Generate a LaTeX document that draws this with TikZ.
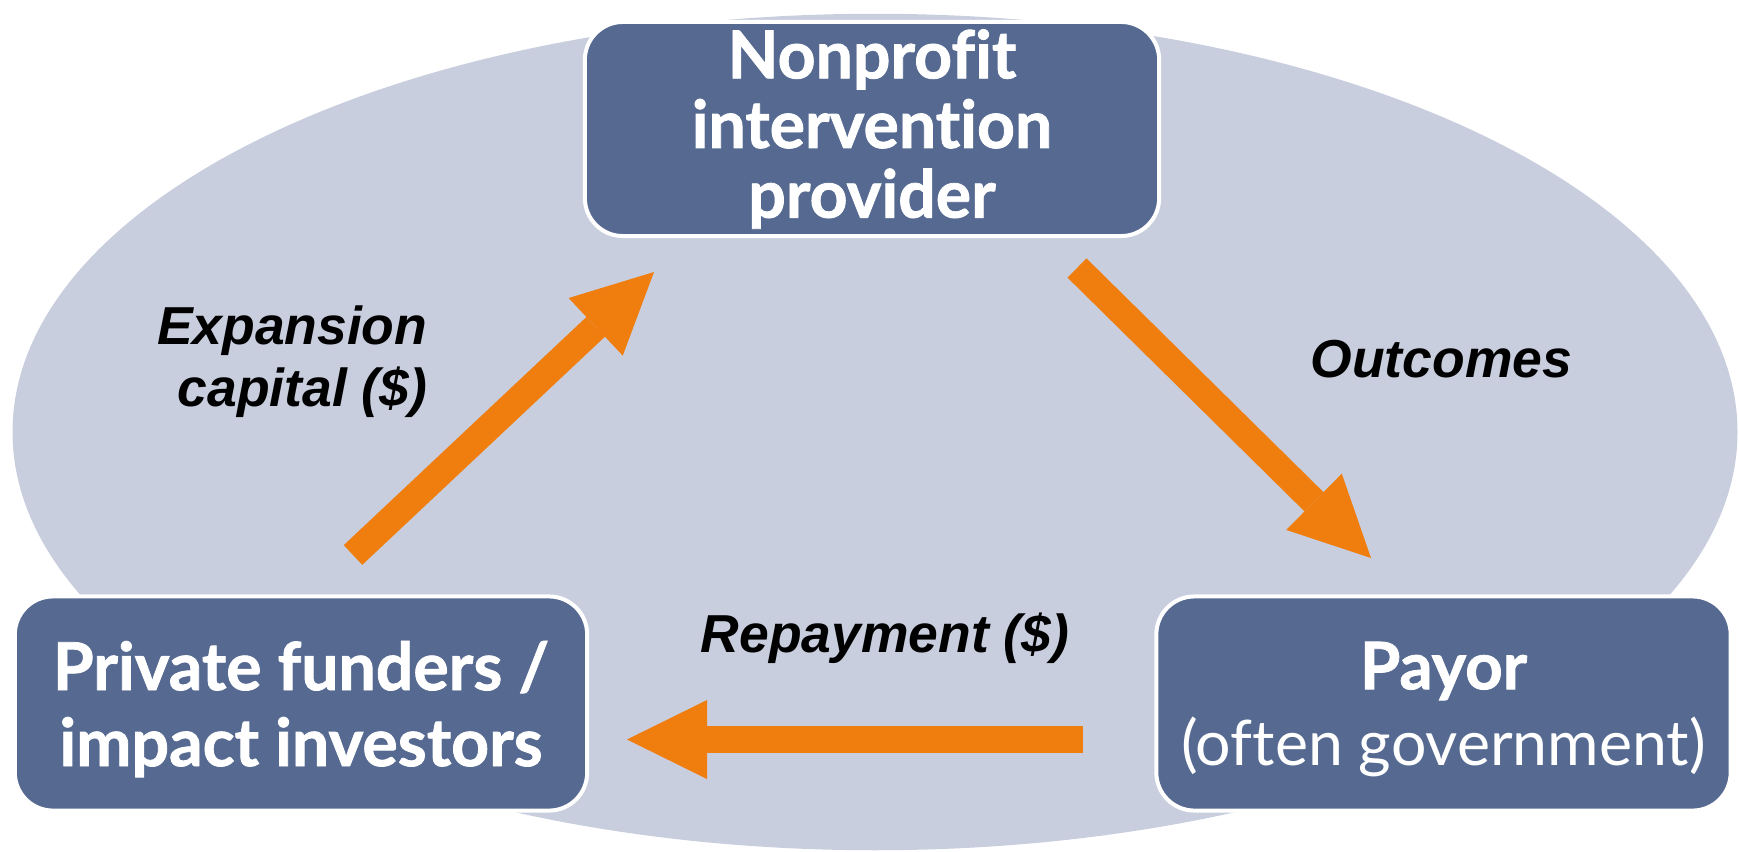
\documentclass[tikz,border=0pt]{standalone}
\usepackage{fontspec}
\setmainfont{Lato}[Ligatures=NoCommon, BoldFeatures={FakeBold=1.2}]
\newfontfamily\labelfont{Liberation Sans}
\usetikzlibrary{arrows.meta}

\definecolor{boxblue}{RGB}{86,106,145}
\definecolor{ovalgrey}{RGB}{200,206,221}
\definecolor{floworange}{RGB}{240,126,14}

\tikzset{
  party/.style={draw=white, line width=0.04cm, fill=boxblue, rounded corners=0.38cm,
    text=white, align=center, minimum width=5.74cm, minimum height=2.14cm, inner sep=0pt},
  flow/.style={draw=floworange, line width=0.27cm,
    -{Triangle[length=0.8cm,width=0.79cm,line width=0pt]}},
  flowlabel/.style={font=\labelfont\bfseries\itshape\fontsize{15.2}{17.4}\selectfont, inner sep=0pt}
}

\begin{document}
\begin{tikzpicture}[x=0.01cm,y=-0.01cm]
  \useasboundingbox (0,0) rectangle (1739,851);
  % background oval
  \fill[ovalgrey] (875,432) ellipse [x radius=8.62cm, y radius=4.18cm];

  % the three parties
  \node[party, font=\bfseries\fontsize{18.8}{19.8}\selectfont] (provider) at (872,129)
    {Nonprofit\\intervention\\provider};
  \node[party, minimum width=5.72cm, text depth=0pt, font=\bfseries\fontsize{18.8}{21.6}\selectfont] (funders) at (301,703.5)
    {Private funders /\\impact investors};
  \node[party, text depth=0pt, font=\fontsize{18.6}{21.6}\selectfont] (payor) at (1443.5,703.5)
    {\textbf{Payor}\\{\fontsize{17.8}{21.6}\selectfont (often government)}};

  % flows
  \coordinate (cap-tail) at (353,555);
  \coordinate (cap-tip) at (654,272);
  \coordinate (out-tail) at (1077,268);
  \coordinate (out-tip) at (1371,558);
  \coordinate (rep-tail) at (1083,739.5);
  \coordinate (rep-tip) at (627,739.5);
  \draw[flow] (cap-tail) -- (cap-tip);
  \draw[flow] (out-tail) -- (out-tip);
  \draw[flow] (rep-tail) -- (rep-tip);

  \node[flowlabel, align=right, anchor=base east] (caplabel) at (428,406) {Expansion\\capital (\$)};
  \node[flowlabel, anchor=base west] (outlabel) at (1310,377) {Outcomes};
  \node[flowlabel, anchor=base west] (replabel) at (700,652) {Repayment (\$)};
\end{tikzpicture}
\end{document}
